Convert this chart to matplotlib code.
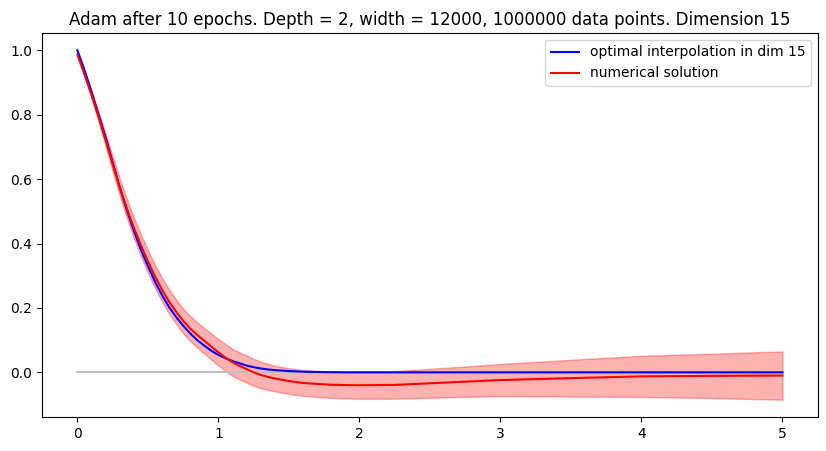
import numpy as np
import matplotlib.pyplot as plt

# valores
x = [0.0, 0.05, 0.1, 0.15, 0.2, 0.25, 0.3, 0.35, 0.4, 0.45, 0.5, 0.55, 0.6,
     0.65, 0.7, 0.75, 0.8, 0.85, 0.9, 0.95, 1.0, 1.05, 1.1, 1.15, 1.2, 1.25,
     1.3, 1.35, 1.4, 1.5, 1.6, 1.7, 1.8, 1.9, 2.0, 2.25, 2.5, 2.75, 3.0, 3.5,
     4.0, 4.5, 5.0]
optimo = [1.0, 0.94, 0.872, 0.80, 0.73, 0.652, 0.575, 0.505, 0.44, 0.382,
          0.33, 0.282, 0.24, 0.203, 0.172, 0.145, 0.121, 0.10, 0.083, 0.067,
          0.054, 0.044, 0.035, 0.028, 0.021, 0.016, 0.012, 0.009, 0.007,
          0.004, 0.002, 0.001, 0.0005, 0.0, 0.0, 0.0, 0.0, 0.0, 0.0, 0.0,
          0.0, 0.0, 0.0]
numerico = [0.987, 0.926, 0.862, 0.794, 0.722, 0.648, 0.575, 0.51, 0.45,
            0.395, 0.345, 0.298, 0.257, 0.22, 0.188, 0.16, 0.136, 0.116,
            0.098, 0.08, 0.062, 0.046, 0.031, 0.02, 0.01, 0.0, -0.008,
            -0.014, -0.019, -0.027, -0.033, -0.036, -0.0385, -0.0395, -0.040,
            -0.039, -0.034, -0.029, -0.024, -0.018, -0.0125, -0.011, -0.01]
desvio = [0.004, 0.008, 0.012, 0.016, 0.02, 0.024, 0.027, 0.03, 0.032, 0.034,
          0.035, 0.036, 0.037, 0.0375, 0.038, 0.0385, 0.039, 0.0395, 0.04,
          0.0405, 0.041, 0.0415, 0.042, 0.042, 0.042, 0.042, 0.041, 0.0405,
          0.04, 0.04, 0.04, 0.0405, 0.041, 0.0415, 0.042, 0.043, 0.045,
          0.047, 0.05, 0.057, 0.064, 0.069, 0.075]

x = np.array(x)
numerico = np.array(numerico)
desvio = np.array(desvio)

fig = plt.figure(figsize=(8.26, 4.51), dpi=100)
plt.subplots_adjust(left=0.051, right=0.990, bottom=0.075, top=0.927)

plt.plot(x, np.zeros_like(x), color='silver', lw=1.5)
plt.plot(x, optimo, color='blue', label='optimal interpolation in dim 15')
plt.plot(x, numerico, color='red', label='numerical solution')
plt.fill_between(x, numerico - desvio, numerico + desvio, color='red', alpha=0.3)
plt.title('Adam after 10 epochs. Depth = 2, width = 12000, 1000000 data points. Dimension 15')
plt.legend(loc='upper right')

plt.savefig('out.png', dpi=100)
